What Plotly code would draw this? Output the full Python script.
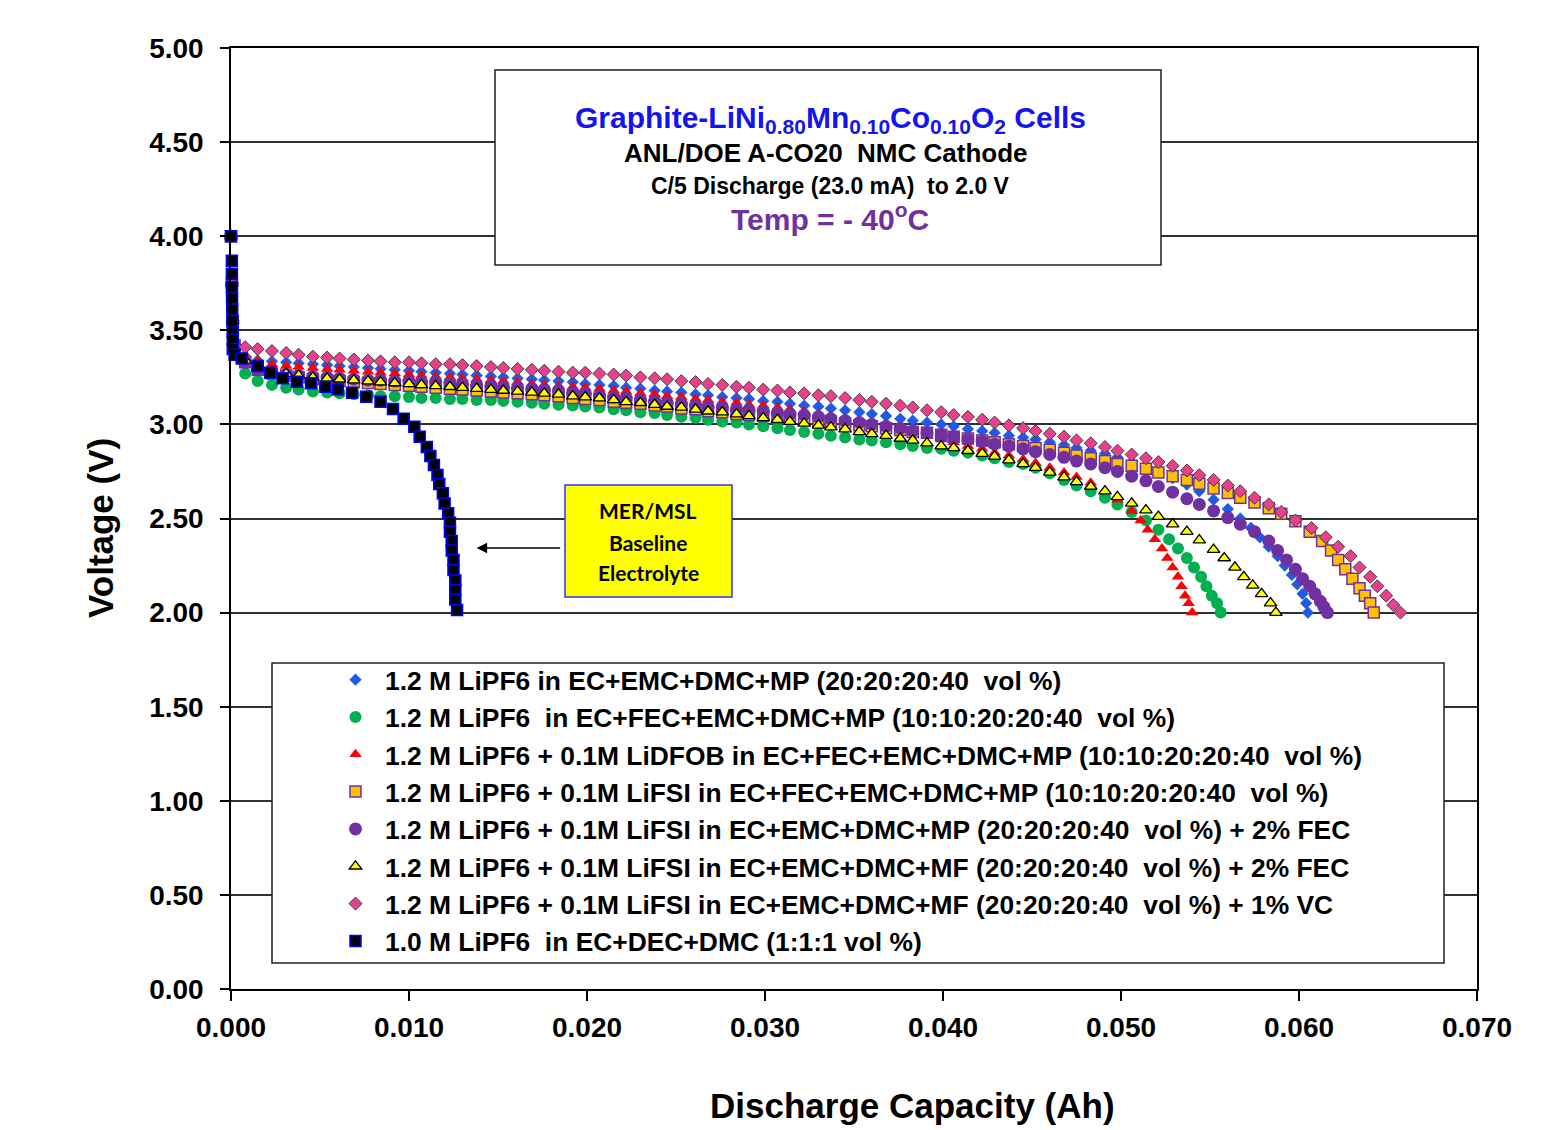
import plotly.graph_objects as go

# ---------------- data ----------------
cap_grid = [0.0008, 0.0015, 0.0023, 0.0031, 0.0038, 0.0046, 0.0054, 0.0061, 0.0069, 0.0077,
            0.0084, 0.0092, 0.0100, 0.0107, 0.0115, 0.0123, 0.0130, 0.0138, 0.0146, 0.0153,
            0.0161, 0.0169, 0.0176, 0.0184, 0.0192, 0.0199, 0.0207, 0.0215, 0.0222, 0.0230,
            0.0238, 0.0245, 0.0253, 0.0261, 0.0268, 0.0276, 0.0284, 0.0291, 0.0299, 0.0307,
            0.0314, 0.0322, 0.0330, 0.0337, 0.0345, 0.0353, 0.0360, 0.0368, 0.0376, 0.0383,
            0.0391, 0.0399, 0.0406, 0.0414, 0.0422, 0.0429, 0.0437, 0.0445, 0.0452, 0.0460,
            0.0468, 0.0475, 0.0483, 0.0491, 0.0498, 0.0506, 0.0514, 0.0521, 0.0529, 0.0537,
            0.0544, 0.0552, 0.0560, 0.0567, 0.0575, 0.0583, 0.0590, 0.0598, 0.0606, 0.0613]

head_caps = [0.0, 0.00005, 0.0001, 0.0002]
head_volts = [4.00, 3.75, 3.55, 3.42]

mp_volts = [3.36, 3.34, 3.335, 3.33, 3.325, 3.32, 3.315, 3.31, 3.305, 3.30,
            3.295, 3.29, 3.285, 3.28, 3.275, 3.27, 3.265, 3.26, 3.255, 3.25,
            3.245, 3.24, 3.235, 3.23, 3.225, 3.215, 3.21, 3.205, 3.195, 3.19,
            3.18, 3.175, 3.17, 3.16, 3.155, 3.145, 3.14, 3.135, 3.125, 3.12,
            3.11, 3.10, 3.095, 3.085, 3.075, 3.065, 3.055, 3.045, 3.03, 3.02,
            3.01, 3.00, 2.99, 2.975, 2.965, 2.955, 2.94, 2.93, 2.92, 2.905,
            2.89, 2.875, 2.86, 2.845, 2.825, 2.80, 2.775, 2.745, 2.715, 2.68,
            2.645, 2.60, 2.55]
mp_tail_caps = [0.0567, 0.0573, 0.0578, 0.0583, 0.0588, 0.0592, 0.0596, 0.0599, 0.0602, 0.0604, 0.0605]
mp_tail_volts = [2.50, 2.45, 2.40, 2.35, 2.30, 2.25, 2.20, 2.15, 2.10, 2.05, 2.00]

fec_volts = [3.27, 3.23, 3.21, 3.195, 3.185, 3.175, 3.17, 3.165, 3.16, 3.155,
             3.15, 3.15, 3.145, 3.14, 3.14, 3.135, 3.135, 3.13, 3.13, 3.125,
             3.12, 3.115, 3.11, 3.105, 3.10, 3.095, 3.09, 3.08, 3.075, 3.065,
             3.06, 3.05, 3.04, 3.035, 3.025, 3.015, 3.01, 3.00, 2.99, 2.98,
             2.97, 2.96, 2.95, 2.94, 2.93, 2.92, 2.915, 2.905, 2.895, 2.885,
             2.875, 2.87, 2.86, 2.85, 2.835, 2.82, 2.80, 2.79, 2.77, 2.74,
             2.705, 2.675, 2.645, 2.61, 2.575, 2.535, 2.49, 2.44]
fec_tail_caps = [0.0527, 0.0532, 0.0537, 0.0541, 0.0545, 0.0548, 0.0551, 0.0554, 0.0556]
fec_tail_volts = [2.39, 2.34, 2.29, 2.24, 2.19, 2.14, 2.09, 2.05, 2.00]

dfob_volts = [3.37, 3.34, 3.32, 3.31, 3.305, 3.30, 3.295, 3.29, 3.285, 3.28,
              3.275, 3.27, 3.265, 3.26, 3.255, 3.25, 3.245, 3.24, 3.235, 3.23,
              3.225, 3.215, 3.21, 3.205, 3.20, 3.195, 3.19, 3.18, 3.175, 3.165,
              3.16, 3.15, 3.145, 3.135, 3.13, 3.12, 3.115, 3.105, 3.10, 3.09,
              3.08, 3.07, 3.055, 3.045, 3.03, 3.02, 3.005, 2.99, 2.975, 2.955,
              2.94, 2.92, 2.905, 2.885, 2.87, 2.85, 2.835, 2.815, 2.795, 2.77,
              2.745, 2.72, 2.69, 2.65, 2.60, 2.54]
dfob_tail_caps = [0.0511, 0.0515, 0.0519, 0.0523, 0.0526, 0.0529, 0.0532, 0.0534, 0.0536, 0.0538, 0.0540]
dfob_tail_volts = [2.49, 2.44, 2.39, 2.34, 2.29, 2.24, 2.19, 2.14, 2.09, 2.05, 2.00]

fsi_fec_volts = [3.33, 3.29, 3.27, 3.26, 3.25, 3.24, 3.235, 3.23, 3.225, 3.22,
                 3.215, 3.21, 3.205, 3.20, 3.195, 3.19, 3.185, 3.18, 3.175, 3.17,
                 3.165, 3.16, 3.155, 3.15, 3.14, 3.135, 3.13, 3.12, 3.115, 3.11,
                 3.10, 3.095, 3.085, 3.08, 3.07, 3.065, 3.055, 3.05, 3.045, 3.035,
                 3.03, 3.025, 3.02, 3.015, 3.005, 2.995, 2.99, 2.98, 2.97, 2.96,
                 2.955, 2.945, 2.935, 2.925, 2.915, 2.905, 2.895, 2.885, 2.875, 2.865,
                 2.85, 2.835, 2.82, 2.805, 2.79, 2.78, 2.765, 2.745, 2.725, 2.705,
                 2.685, 2.66, 2.635, 2.61, 2.585, 2.555, 2.525, 2.485, 2.43]
fsi_fec_tail_caps = [0.0613, 0.0618, 0.0622, 0.0626, 0.0630, 0.0634, 0.0637, 0.0640, 0.0642]
fsi_fec_tail_volts = [2.38, 2.33, 2.28, 2.23, 2.18, 2.13, 2.09, 2.05, 2.00]

fsi_mp_volts = [3.33, 3.29, 3.275, 3.265, 3.26, 3.255, 3.25, 3.245, 3.24, 3.235,
                3.235, 3.23, 3.23, 3.225, 3.225, 3.22, 3.215, 3.21, 3.205, 3.20,
                3.195, 3.19, 3.185, 3.18, 3.17, 3.165, 3.155, 3.145, 3.14, 3.13,
                3.125, 3.115, 3.11, 3.10, 3.095, 3.09, 3.08, 3.075, 3.07, 3.06,
                3.055, 3.05, 3.04, 3.03, 3.02, 3.01, 3.00, 2.99, 2.98, 2.965,
                2.955, 2.945, 2.935, 2.92, 2.91, 2.895, 2.885, 2.87, 2.855, 2.84,
                2.825, 2.805, 2.79, 2.77, 2.75, 2.725, 2.70, 2.67, 2.64, 2.605,
                2.575, 2.54, 2.505, 2.47, 2.43, 2.38]
fsi_mp_tail_caps = [0.0588, 0.0593, 0.0598, 0.0602, 0.0606, 0.0609, 0.0612, 0.0614, 0.0616]
fsi_mp_tail_volts = [2.33, 2.28, 2.23, 2.18, 2.14, 2.10, 2.06, 2.03, 2.00]

fsi_mf_volts = [3.34, 3.30, 3.28, 3.27, 3.26, 3.25, 3.245, 3.24, 3.235, 3.23,
                3.225, 3.22, 3.215, 3.21, 3.205, 3.20, 3.195, 3.19, 3.185, 3.18,
                3.175, 3.17, 3.165, 3.16, 3.15, 3.145, 3.14, 3.13, 3.12, 3.115,
                3.105, 3.095, 3.09, 3.08, 3.07, 3.065, 3.055, 3.045, 3.035, 3.025,
                3.015, 3.005, 2.995, 2.985, 2.975, 2.96, 2.95, 2.94, 2.925, 2.915,
                2.90, 2.885, 2.875, 2.86, 2.845, 2.83, 2.81, 2.79, 2.77, 2.745,
                2.72, 2.695, 2.67, 2.645, 2.615, 2.58, 2.545, 2.51, 2.47, 2.43,
                2.385, 2.335]
fsi_mf_tail_caps = [0.0558, 0.0564, 0.0569, 0.0574, 0.0579, 0.0584, 0.0587]
fsi_mf_tail_volts = [2.29, 2.24, 2.19, 2.145, 2.10, 2.05, 2.00]

vc_volts = [3.41, 3.40, 3.39, 3.38, 3.37, 3.36, 3.355, 3.35, 3.345, 3.34,
            3.335, 3.33, 3.33, 3.325, 3.32, 3.32, 3.315, 3.31, 3.305, 3.30,
            3.295, 3.29, 3.285, 3.28, 3.275, 3.275, 3.27, 3.265, 3.26, 3.25,
            3.245, 3.24, 3.23, 3.225, 3.215, 3.21, 3.20, 3.195, 3.185, 3.18,
            3.17, 3.165, 3.155, 3.15, 3.14, 3.13, 3.12, 3.11, 3.10, 3.09,
            3.075, 3.065, 3.05, 3.04, 3.025, 3.01, 2.995, 2.98, 2.965, 2.95,
            2.935, 2.915, 2.90, 2.88, 2.86, 2.84, 2.82, 2.80, 2.78, 2.755,
            2.73, 2.705, 2.675, 2.645, 2.61, 2.575, 2.535, 2.49]
vc_tail_caps = [0.0607, 0.0615, 0.0622, 0.0629, 0.0634, 0.0640, 0.0644, 0.0649, 0.0653, 0.0657]
vc_tail_volts = [2.45, 2.40, 2.35, 2.30, 2.24, 2.19, 2.14, 2.09, 2.04, 2.00]

baseline_caps = [0.0, 0.00005, 0.00005, 0.00005, 0.00006, 0.00007, 0.00008, 0.0001, 0.0001, 0.0001, 0.0002,
                 0.0006, 0.0015, 0.0022, 0.0029, 0.0037, 0.0045, 0.0053, 0.0060, 0.0068, 0.0076, 0.0084,
                 0.0091, 0.0097, 0.0103, 0.0106, 0.0110, 0.0112, 0.0114, 0.0116, 0.0117, 0.0119, 0.0120,
                 0.0122, 0.0123, 0.0123, 0.0124, 0.0124, 0.0125, 0.0125, 0.0126, 0.0126, 0.0126, 0.0127]
baseline_volts = [4.00, 3.87, 3.80, 3.73, 3.67, 3.61, 3.55, 3.49, 3.45, 3.40, 3.37,
                  3.35, 3.31, 3.275, 3.245, 3.227, 3.218, 3.20, 3.186, 3.168, 3.147, 3.12,
                  3.082, 3.03, 2.988, 2.935, 2.88, 2.832, 2.784, 2.731, 2.683, 2.634, 2.58,
                  2.528, 2.478, 2.43, 2.38, 2.33, 2.28, 2.226, 2.17, 2.12, 2.07, 2.014]

NB = "\u00a0"
series_names = [
    "1.2 M LiPF6 in EC+EMC+DMC+MP (20:20:20:40" + NB + " vol %)",
    "1.2 M LiPF6" + NB + " in EC+FEC+EMC+DMC+MP (10:10:20:20:40" + NB + " vol %)",
    "1.2 M LiPF6 + 0.1M LiDFOB in EC+FEC+EMC+DMC+MP (10:10:20:20:40" + NB + " vol %)",
    "1.2 M LiPF6 + 0.1M LiFSI in EC+FEC+EMC+DMC+MP (10:10:20:20:40" + NB + " vol %)",
    "1.2 M LiPF6 + 0.1M LiFSI in EC+EMC+DMC+MP (20:20:20:40" + NB + " vol %) + 2% FEC",
    "1.2 M LiPF6 + 0.1M LiFSI in EC+EMC+DMC+MF (20:20:20:40" + NB + " vol %) + 2% FEC",
    "1.2 M LiPF6 + 0.1M LiFSI in EC+EMC+DMC+MF (20:20:20:40" + NB + " vol %) + 1% VC",
    "1.0 M LiPF6" + NB + " in EC+DEC+DMC (1:1:1 vol %)",
]

y_ticks = [0.0, 0.5, 1.0, 1.5, 2.0, 2.5, 3.0, 3.5, 4.0, 4.5, 5.0]
x_ticks = [0.000, 0.010, 0.020, 0.030, 0.040, 0.050, 0.060, 0.070]

# ---------------- build the series ----------------
def build(volts, tail_caps, tail_volts):
    n = len(volts)
    return head_caps + cap_grid[:n] + tail_caps, head_volts + volts + tail_volts

series_data = [
    build(mp_volts, mp_tail_caps, mp_tail_volts),
    build(fec_volts, fec_tail_caps, fec_tail_volts),
    build(dfob_volts, dfob_tail_caps, dfob_tail_volts),
    build(fsi_fec_volts, fsi_fec_tail_caps, fsi_fec_tail_volts),
    build(fsi_mp_volts, fsi_mp_tail_caps, fsi_mp_tail_volts),
    build(fsi_mf_volts, fsi_mf_tail_caps, fsi_mf_tail_volts),
    build(vc_volts, vc_tail_caps, vc_tail_volts),
    (baseline_caps, baseline_volts),
]

marker_styles = [
    dict(symbol="diamond", size=9, color="#1E5AE6", line=dict(width=0.5, color="#1E5AE6")),
    dict(symbol="circle", size=12, color="#00B050", line=dict(width=0)),
    dict(symbol="triangle-up", size=11, color="#FF0000", line=dict(width=0)),
    dict(symbol="square", size=11, color="#FFC000", line=dict(width=1.5, color="#7030A0")),
    dict(symbol="circle", size=13, color="#7030A0", line=dict(width=0)),
    dict(symbol="triangle-up", size=11, color="#FFFF00", line=dict(width=1.3, color="#000000")),
    dict(symbol="diamond", size=10, color="#E8408C", line=dict(width=1, color="#404040")),
    dict(symbol="square", size=11, color="#000000", line=dict(width=1.5, color="#0000FF")),
]

FONT = "Liberation Sans, Arial, sans-serif"

fig = go.Figure()
for i, ((xs, ys), name, mk) in enumerate(zip(series_data, series_names, marker_styles)):
    fig.add_trace(go.Scatter(
        x=xs, y=ys, mode="markers", name=name, marker=mk,
        cliponaxis=False, legendgroup=f"g{i}",
    ))

# ---------------- layout ----------------
L, R, T, B = 231, 1477, 48, 989
W, H = 1547, 1130
def px(xp):
    return (xp - L) / (R - L)
def py(yp):
    return (B - yp) / (B - T)

fig.update_layout(
    width=W, height=H,
    margin=dict(l=L, r=W - R, t=T, b=H - B, pad=0),
    paper_bgcolor="white", plot_bgcolor="white",
    font=dict(family=FONT, color="black"),
    showlegend=True,
    legend=dict(
        x=px(326), y=py(656), xanchor="left", yanchor="top",
        bgcolor="rgba(0,0,0,0)", borderwidth=0,
        font=dict(family=FONT, size=26.4, color="black", weight="bold"),
        traceorder="grouped", tracegroupgap=0, itemwidth=49,
    ),
    xaxis=dict(
        range=[0, 0.070], tickvals=x_ticks, tickformat=".3f",
        showgrid=False, zeroline=False,
        showline=True, linecolor="black", linewidth=1.5, mirror=True,
        ticks="outside", ticklen=10, tickwidth=1.5, tickcolor="black",
        tickfont=dict(family=FONT, size=28, color="black", weight="bold"),
        ticklabelstandoff=3,
    ),
    yaxis=dict(
        range=[0, 5.0], tickvals=y_ticks, tickformat=".2f",
        showgrid=True, gridcolor="#303030", gridwidth=1.5, zeroline=False,
        showline=True, linecolor="black", linewidth=1.5, mirror=True,
        ticks="outside", ticklen=9, tickwidth=1.5, tickcolor="black",
        tickfont=dict(family=FONT, size=28, color="black", weight="bold"),
        ticklabelstandoff=11,
    ),
)

shapes = [
    # title box
    dict(type="rect", xref="paper", yref="paper", x0=px(495), x1=px(1161), y0=py(265), y1=py(70),
         fillcolor="white", line=dict(color="#202020", width=1.5), layer="above"),
    # legend box
    dict(type="rect", xref="paper", yref="paper", x0=px(272), x1=px(1444), y0=py(963), y1=py(663),
         fillcolor="white", line=dict(color="#202020", width=1.5), layer="above"),
    # yellow note box
    dict(type="rect", xref="paper", yref="paper", x0=px(565), x1=px(732), y0=py(597), y1=py(485),
         fillcolor="#FFFF00", line=dict(color="#3030FF", width=1.5), layer="above"),
]
fig.update_layout(shapes=shapes)

ann = []
def text(xp, yp, s, size, color="black", family=FONT, bold=True, angle=0):
    ann.append(dict(xref="paper", yref="paper", x=px(xp), y=py(yp), text=(f"<b>{s}</b>" if bold else s),
                    showarrow=False, xanchor="center", yanchor="middle", textangle=angle,
                    font=dict(family=family, size=size, color=color)))

text(830, 120, "Graphite-LiNi<sub>0.80</sub>Mn<sub>0.10</sub>Co<sub>0.10</sub>O<sub>2</sub> Cells", 30, "#1414F0")
text(826, 153, "ANL/DOE A-CO20" + NB + " NMC Cathode", 26)
text(830, 186, "C/5 Discharge (23.0 mA)" + NB + " to 2.0 V", 23)
text(830, 217, "Temp = - 40<sup>o</sup>C", 30, "#7030A0")

text(648, 510, "MER/MSL", 21, family="Lato, Open Sans, sans-serif")
text(648, 542, "Baseline", 21, family="Lato, Open Sans, sans-serif")
text(648, 573, "Electrolyte", 21, family="Lato, Open Sans, sans-serif")

text(912, 1105, "Discharge Capacity (Ah)", 35)
text(100, 528, "Voltage (V)", 35, angle=-90)

# arrow pointing from the note box to the baseline curve
ann.append(dict(xref="x", yref="y", x=0.0138, y=2.343, ax=85, ay=0, axref="pixel", ayref="pixel",
                text="", showarrow=True, arrowhead=2, arrowsize=1.4, arrowwidth=1.5, arrowcolor="black",
                standoff=0, startstandoff=0))
fig.update_layout(annotations=ann)

fig.write_html("out.html", config={"displayModeBar": False},
               post_script="document.body.style.margin='0';document.body.style.overflow='hidden';")
